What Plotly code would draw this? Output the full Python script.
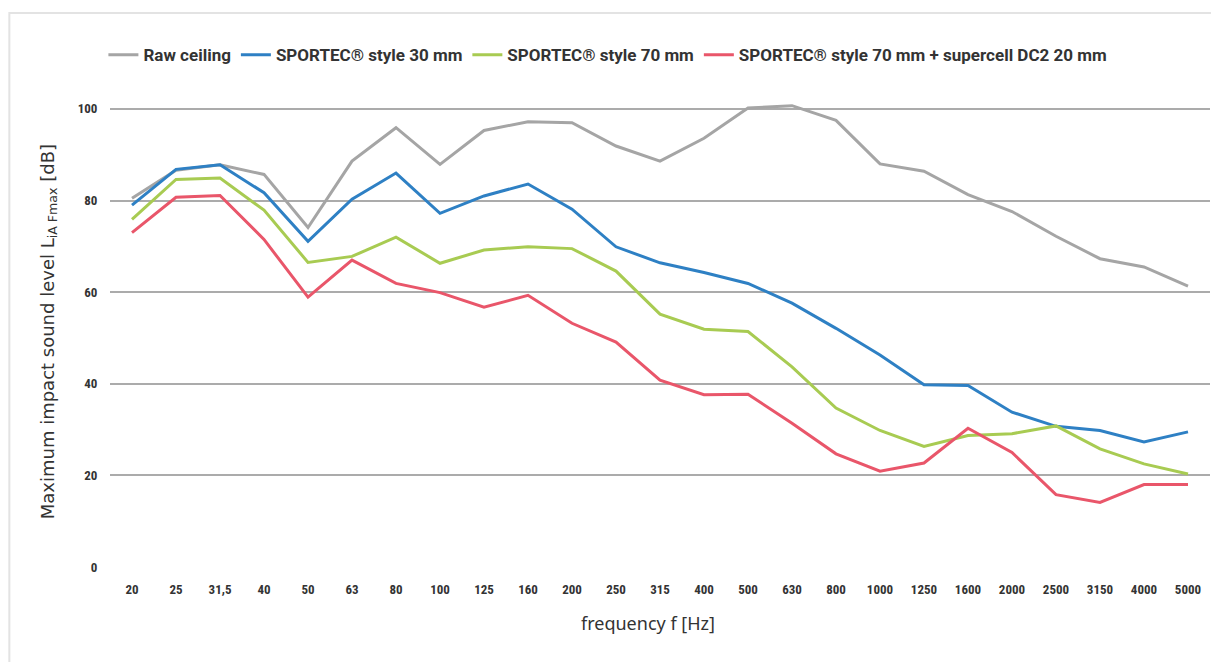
import plotly.graph_objects as go

frequencies = ["20", "25", "31,5", "40", "50", "63", "80", "100", "125", "160", "200", "250",
               "315", "400", "500", "630", "800", "1000", "1250", "1600", "2000", "2500",
               "3150", "4000", "5000"]

raw_ceiling = [80.5, 86.6, 87.8, 85.7, 74.1, 88.6, 95.9, 87.9, 95.3, 97.2, 97.0, 91.9,
               88.6, 93.6, 100.2, 100.7, 97.5, 88.0, 86.4, 81.3, 77.6, 72.2, 67.3, 65.5, 61.3]
style_30 = [79.0, 86.8, 87.8, 81.7, 71.1, 80.3, 86.0, 77.2, 81.0, 83.6, 78.1, 69.9,
            66.4, 64.3, 61.9, 57.6, 52.1, 46.3, 39.8, 39.6, 33.8, 30.7, 29.8, 27.3, 29.5]
style_70 = [75.9, 84.6, 84.9, 77.9, 66.5, 67.8, 72.0, 66.3, 69.2, 69.9, 69.5, 64.6,
            55.2, 51.9, 51.4, 43.7, 34.7, 29.8, 26.3, 28.7, 29.1, 30.8, 25.8, 22.5, 20.3]
style_70_dc2 = [73.0, 80.7, 81.1, 71.5, 58.9, 67.0, 61.9, 59.9, 56.7, 59.3, 53.2, 49.1,
                40.8, 37.6, 37.7, 31.4, 24.7, 20.9, 22.7, 30.3, 25.0, 15.8, 14.1, 18.0, 18.0]

series_names = ["Raw ceiling", "SPORTEC® style 30 mm", "SPORTEC® style 70 mm",
                "SPORTEC® style 70 mm + supercell DC2 20 mm"]
series_colors = ["#a5a5a5", "#2e80c4", "#a8cb52", "#e9566a"]
y_ticks = [0, 20, 40, 60, 80, 100]

fig = go.Figure()
for name, vals, col in zip(series_names, [raw_ceiling, style_30, style_70, style_70_dc2], series_colors):
    fig.add_trace(go.Scatter(x=frequencies, y=vals, name=name, mode="lines",
                             line=dict(color=col, width=3)))

tick_font = dict(family="Liberation Sans Narrow, Roboto Condensed, Arial Narrow, Roboto", size=13,
                 color="#333333", weight="bold")

fig.update_layout(
    width=1219, height=662,
    margin=dict(l=102, r=17, t=78, b=103),
    paper_bgcolor="white", plot_bgcolor="white",
    showlegend=True,
    legend=dict(orientation="h", x=-0.006, y=1.064, xanchor="left", yanchor="middle",
                font=dict(family="Roboto, Liberation Sans", size=17, color="#333333", weight="bold"),
                itemwidth=30, tracegroupgap=0),
    xaxis=dict(type="category", range=[-0.5, 24.5], showgrid=False, showline=False,
               ticks="outside", ticklen=10, tickcolor="rgba(0,0,0,0)",
               tickfont=tick_font, zeroline=False),
    yaxis=dict(range=[0, 105], tickvals=y_ticks, showgrid=True, gridcolor="#ababab", gridwidth=1.5,
               zeroline=False, showline=False, ticks="outside", ticklen=9,
               tickcolor="rgba(0,0,0,0)", tickfont=tick_font),
    annotations=[
        dict(text="Maximum impact sound level L<sub>iA Fmax</sub> [dB]", textangle=-90,
             xref="paper", yref="paper", x=-0.0555, y=0.49, showarrow=False,
             xanchor="center", yanchor="middle",
             font=dict(family="DejaVu Sans", size=18, color="#333333")),
        dict(text="frequency f [Hz]", xref="paper", yref="paper", x=0.489, y=-0.116,
             showarrow=False, xanchor="center", yanchor="middle",
             font=dict(family="Noto Sans", size=18, color="#333333")),
    ],
    shapes=[
        dict(type="rect", xref="paper", yref="paper", x0=-0.0915, x1=1.05, y0=-0.3, y1=1.1518,
             line=dict(color="#e3e3e3", width=2), fillcolor="rgba(0,0,0,0)", layer="below"),
    ],
)

fig.write_html("out.html")
